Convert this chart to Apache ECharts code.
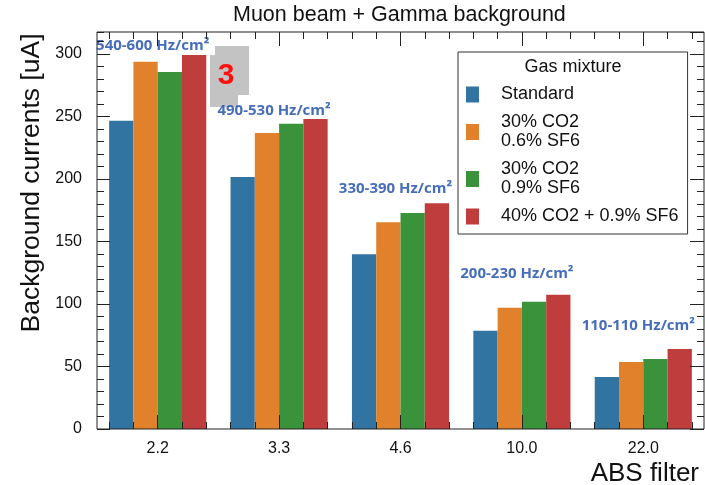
<!DOCTYPE html>
<html><head><meta charset="utf-8">
<script src="https://cdn.jsdelivr.net/npm/echarts@6/dist/echarts.min.js"></script>
<style>html,body{margin:0;padding:0;background:#fff}#c{width:705px;height:485px}</style>
</head><body><div id="c"></div>
<script>
// ---- data ----
const categories = ['2.2', '3.3', '4.6', '10.0', '22.0'];
const seriesNames = ['Standard', '30% CO2\n0.6% SF6', '30% CO2\n0.9% SF6', '40% CO2 + 0.9% SF6'];
const standard      = [246.6, 201.6, 139.8, 78.6, 41.6];
const co2_30_sf6_06 = [293.8, 236.8, 165.4, 97.0, 53.6];
const co2_30_sf6_09 = [285.6, 244.2, 172.8, 101.8, 56.0];
const co2_40_sf6_09 = [299.2, 248.0, 180.6, 107.4, 64.0];
const rateLabels = ['540-600 Hz/cm²', '490-530 Hz/cm²', '330-390 Hz/cm²', '200-230 Hz/cm²', '110-110 Hz/cm²'];
const rateLabelY = [307, 255, 192, 124, 83];
const yMax = 317.6;

// ---- layout ----
const FONT = 'Liberation Sans';
const colors = ['#3274a1', '#e1812c', '#3a923a', '#c03d3e'];
const G = {left: 97, top: 32, width: 607, height: 397};
const band = G.width / categories.length;
const unit = band / 5;
const c0 = G.left + band / 2;

const chart = echarts.init(document.getElementById('c'), null, {renderer: 'canvas'});
const tickX = (grid, pos, max, interval, len) => ({
  type: 'value', gridIndex: grid, position: pos, min: 0, max: max, interval: interval, z: 10,
  axisLine: {show: false}, axisLabel: {show: false}, splitLine: {show: false},
  axisTick: {show: true, inside: true, length: len, lineStyle: {color: '#222', width: 1}}
});
const tickY = (pos, interval, len, labels) => ({
  type: 'value', gridIndex: 0, position: pos, min: 0, max: yMax, interval: interval, z: 10,
  axisLine: {show: false}, splitLine: {show: false},
  axisTick: {show: true, inside: true, length: len, lineStyle: {color: '#222', width: 1}},
  axisLabel: labels ? {show: true, fontFamily: FONT, fontSize: 16, color: '#111', margin: 15, showMaxLabel: false} : {show: false}
});

const data = [standard, co2_30_sf6_06, co2_30_sf6_09, co2_40_sf6_09];
const series = data.map((d, i) => ({
  name: seriesNames[i], type: 'bar', xAxisIndex: 0, yAxisIndex: 0, data: d,
  barWidth: unit, barGap: '0%', itemStyle: {color: colors[i]}
}));
series.push({
  name: 'rates', type: 'scatter', xAxisIndex: 0, yAxisIndex: 0, data: rateLabelY,
  symbolSize: 0, z: 6,
  label: {show: true, position: 'inside', offset: [-5, 0], formatter: p => rateLabels[p.dataIndex],
    fontFamily: 'Open Sans', fontWeight: 'bold', fontSize: 15, color: '#1848a8'}
});

chart.setOption({
  animation: false,
  backgroundColor: '#fff',
  title: {text: 'Muon beam + Gamma background', left: 233, top: 4, padding: 0,
    textStyle: {fontFamily: FONT, fontWeight: 'normal', fontSize: 21.5, color: '#111'}},
  grid: [
    Object.assign({show: true, z: 5, borderColor: '#222', borderWidth: 1, backgroundColor: 'transparent'}, G),
    {left: c0 - 2 * unit, width: 24 * unit, top: G.top, height: G.height},
    {left: c0, width: 4 * band, top: G.top, height: G.height}
  ],
  xAxis: [
    {type: 'category', gridIndex: 0, position: 'bottom', data: categories,
      axisLine: {show: false}, axisTick: {show: false}, splitLine: {show: false},
      axisLabel: {fontFamily: FONT, fontSize: 16, color: '#111', margin: 12}},
    tickX(1, 'bottom', 24, 1, 7), tickX(1, 'top', 24, 1, 7),
    tickX(2, 'bottom', 20, 5, 14), tickX(2, 'top', 20, 5, 14)
  ],
  yAxis: [
    tickY('left', 50, 13, true), tickY('left', 10, 7, false),
    tickY('right', 50, 14, false), tickY('right', 10, 7, false),
    {type: 'value', gridIndex: 1, show: false, min: 0, max: 1},
    {type: 'value', gridIndex: 2, show: false, min: 0, max: 1}
  ],
  legend: {
    orient: 'vertical', left: 458, top: 52, data: seriesNames, selectedMode: false,
    icon: 'rect', itemWidth: 13, itemHeight: 16, itemGap: 9,
    padding: [33, 9, 8, 8], backgroundColor: '#fff', borderColor: '#333', borderWidth: 1,
    textStyle: {fontFamily: FONT, fontSize: 18, lineHeight: 19, color: '#111', padding: [0, 0, 0, 17]}
  },
  graphic: [
    {type: 'rect', z: 1, shape: {x: 215, y: 46, width: 34, height: 49}, style: {fill: '#c3c3c3'}},
    {type: 'rect', z: 1, shape: {x: 210, y: 55, width: 28, height: 52}, style: {fill: '#c3c3c3'}},
    {type: 'text', z: 2, x: 226, y: 76, style: {text: '3', fill: '#ff1010', font: 'bold 30px "Liberation Sans"', align: 'center', verticalAlign: 'middle'}},
    {type: 'text', z: 100, x: 573, y: 67, style: {text: 'Gas mixture', fill: '#111', font: '18px "Liberation Sans"', align: 'center', verticalAlign: 'middle'}},
    {type: 'text', z: 100, x: 32, y: 183, rotation: Math.PI / 2, style: {text: 'Background currents [uA]', fill: '#111', font: '26.5px "Liberation Sans"', align: 'center', verticalAlign: 'middle'}},
    {type: 'text', z: 100, x: 699, y: 474, style: {text: 'ABS filter', fill: '#111', font: '26px "Liberation Sans"', align: 'right', verticalAlign: 'middle'}}
  ],
  series: series
});
</script></body></html>
